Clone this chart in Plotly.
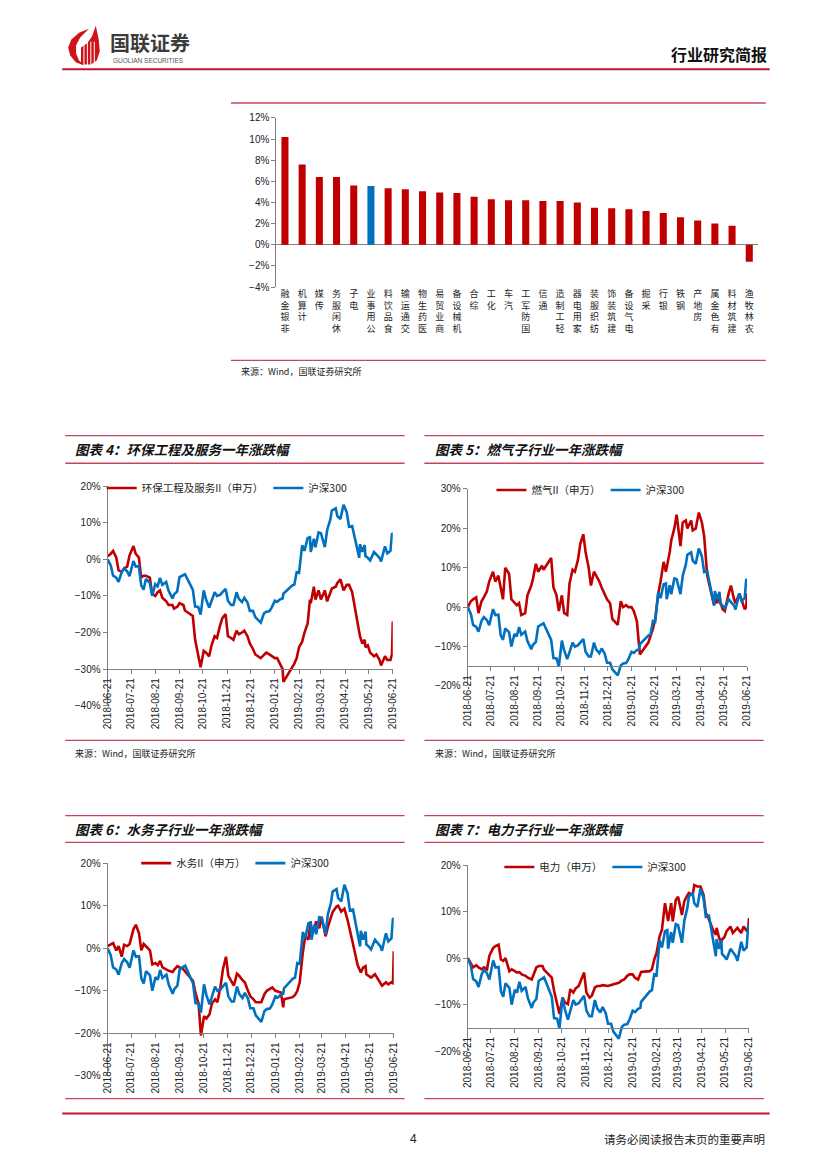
import plotly.graph_objects as go

W, H = 827, 1169
def X(p):
    return p / W
def Y(p):
    return 1 - p / H

RED = "#C00000"
BLUE = "#0070C0"
FRAME = "#C8445A"
AXIS = "#7F7F7F"
TXT = "#222222"
CJK = "Noto Sans CJK SC"
LAT = "Liberation Sans"

# ---------------- bar chart data ----------------
CATS = ["非银金融", "计算机", "传媒", "休闲服务", "电子", "公用事业", "食品饮料", "交通运输",
        "医药生物", "商业贸易", "机械设备", "综合", "化工", "汽车", "国防军工", "通信",
        "轻工制造", "家用电器", "纺织服装", "建筑装饰", "电气设备", "采掘", "银行", "钢铁",
        "房地产", "有色金属", "建筑材料", "农林牧渔"]
BAR_VALS = [10.2, 7.6, 6.4, 6.4, 5.6, 5.55, 5.35, 5.25, 5.05, 4.95, 4.9, 4.55, 4.3, 4.2,
            4.2, 4.15, 4.15, 4.0, 3.5, 3.45, 3.35, 3.2, 3.0, 2.6, 2.3, 2.0, 1.8, -1.6]
HIGHLIGHT = "公用事业"
BAR_TICKS = [-4, -2, 0, 2, 4, 6, 8, 10, 12]

# ---------------- line chart data (%, one-year change) ----------------
DATES = [
    "2018-06-21", "2018-06-25", "2018-06-28", "2018-07-02", "2018-07-05", "2018-07-09",
    "2018-07-12", "2018-07-16", "2018-07-19", "2018-07-24", "2018-07-27", "2018-07-31",
    "2018-08-03", "2018-08-06", "2018-08-09", "2018-08-14", "2018-08-17", "2018-08-21",
    "2018-08-24", "2018-08-27", "2018-08-30",
    "2018-09-04", "2018-09-07", "2018-09-12", "2018-09-14", "2018-09-18", "2018-09-21",
    "2018-09-26", "2018-09-28",
    "2018-10-08", "2018-10-11", "2018-10-15", "2018-10-18", "2018-10-22", "2018-10-25",
    "2018-10-29",
    "2018-11-01", "2018-11-05", "2018-11-08", "2018-11-12", "2018-11-15", "2018-11-19",
    "2018-11-22", "2018-11-26", "2018-11-29",
    "2018-12-03", "2018-12-06", "2018-12-10", "2018-12-13", "2018-12-17", "2018-12-20",
    "2018-12-24", "2018-12-27",
    "2019-01-03", "2019-01-07", "2019-01-10", "2019-01-14", "2019-01-17", "2019-01-21",
    "2019-01-24", "2019-01-28", "2019-01-31",
    "2019-02-01", "2019-02-12", "2019-02-15", "2019-02-18", "2019-02-21", "2019-02-25",
    "2019-02-28",
    "2019-03-04", "2019-03-07", "2019-03-08", "2019-03-12", "2019-03-14", "2019-03-18",
    "2019-03-21", "2019-03-26", "2019-03-29",
    "2019-04-02", "2019-04-04", "2019-04-09", "2019-04-11", "2019-04-15", "2019-04-19",
    "2019-04-23", "2019-04-26", "2019-04-30",
    "2019-05-06", "2019-05-09", "2019-05-10", "2019-05-13", "2019-05-16", "2019-05-17",
    "2019-05-20", "2019-05-23", "2019-05-28", "2019-05-31",
    "2019-06-04", "2019-06-06", "2019-06-11", "2019-06-14", "2019-06-18", "2019-06-20",
    "2019-06-21",
]

HS300 = [
    0.0, -1.7, -4.5, -5.0, -6.2, -3.5, -2.5, -3.3, -4.6, -0.5, -2.0, -1.9,
    -7.1, -8.3, -5.4, -6.4, -10.0, -6.8, -7.4, -5.1, -7.0,
    -6.2, -8.6, -10.7, -9.6, -8.8, -4.9, -4.3, -4.1,
    -8.3, -12.9, -13.0, -15.1, -8.5, -11.0, -13.2,
    -11.2, -9.0, -10.0, -9.7, -9.0, -8.1, -11.3, -12.5, -12.5,
    -9.0, -10.8, -11.7, -10.5, -11.8, -14.1, -14.1, -15.8,
    -17.3, -14.8, -14.3, -14.2, -13.2, -11.3, -11.6, -10.9, -10.7,
    -9.4, -7.2, -6.9, -3.5, -3.7, 3.8, 2.3,
    5.8, 6.0, 2.0, 5.6, 3.3, 7.3, 7.1, 3.3, 8.0,
    10.8, 13.3, 13.9, 11.8, 11.0, 14.9, 12.9, 8.9, 9.1,
    2.8, 0.4, 4.1, 2.0, 3.9, 0.9, 0.4, -0.3, 2.0, 1.2,
    0.4, -0.6, 3.5, 1.6, 2.3, 7.1, 6.9,
]

ENV = [
    0.8, 1.5, 2.3, 0.5, -3.0, -3.5, -2.5, -2.0, 1.0, 3.6, 1.5, 0.5,
    -5.0, -4.5, -4.5, -5.0, -9.5, -10.0, -9.0, -8.5, -10.5,
    -11.5, -12.5, -12.5, -13.5, -13.0, -12.0, -12.5, -14.0,
    -15.5, -22.0, -26.0, -29.5, -25.0, -25.5, -26.5,
    -23.5, -21.0, -21.5, -18.0, -16.0, -15.0, -21.0, -21.5, -22.0,
    -19.5, -20.5, -20.0, -19.5, -21.0, -23.0, -24.5, -26.0,
    -27.0, -26.0, -25.5, -26.0, -26.5, -27.0, -27.0, -28.5, -30.0,
    -33.5, -29.5, -28.5, -27.0, -24.0, -22.5, -20.0,
    -17.5, -11.0, -12.0, -7.5, -11.0, -8.5, -11.0, -8.5, -11.5,
    -9.5, -8.0, -7.5, -6.5, -5.5, -8.5, -7.0, -7.0, -9.0,
    -16.0, -19.0, -21.0, -23.0, -22.0, -24.0, -23.5, -25.5, -26.5, -26.0,
    -27.5, -29.0, -26.5, -27.5, -27.5, -26.0, -17.0,
]

GAS = [
    0.0, 1.5, 2.0, 2.5, -1.5, 1.5, 2.5, 4.0, 6.5, 9.0, 6.5, 8.0,
    5.0, 2.0, 10.0, 8.5, 2.0, 1.0, 0.5, 1.0, -2.0,
    -1.5, 3.0, 5.5, 7.0, 11.0, 9.0, 10.5, 9.5,
    12.5, 5.0, 3.0, -1.0, 3.0, -1.5, -2.0,
    6.0, 9.5, 9.0, 12.0, 16.0, 18.5, 14.0, 10.0, 5.5,
    9.0, 8.0, 6.5, 5.0, 3.0, 2.0, 1.0, -3.0,
    -4.5, 1.5, 0.0, 0.5, 0.0, 0.0, -1.0, -3.5, -10.0,
    -12.0, -9.0, -7.5, -5.5, -3.0, 3.5, 6.5,
    11.5, 9.0, 10.0, 14.0, 17.0, 20.0, 23.5, 15.5, 21.5,
    22.0, 20.0, 22.0, 19.5, 20.0, 24.0, 21.5, 18.0, 8.0,
    3.0, 0.5, 2.5, 1.0, 3.5, 1.5, -0.5, -1.0, 3.5, 5.5,
    2.0, 1.0, 3.5, 1.5, -0.5, 0.0, 3.5,
]

WATER = [
    0.5, 0.8, 1.2, -0.5, 0.5, -2.0, 0.8, 0.5, 1.0, 4.5, 5.5, 3.5,
    -0.5, 1.0, 0.5, -0.5, -3.8, -3.5, -4.0, -3.0, -4.5,
    -5.0, -5.3, -5.6, -5.0, -4.2, -4.5, -5.0, -5.5,
    -7.7, -10.5, -13.0, -20.5, -16.0, -16.5, -15.5,
    -13.0, -12.0, -12.7, -9.0, -5.0, -2.0, -6.5, -8.0, -8.8,
    -6.0, -6.5, -7.5, -8.0, -10.0, -11.3, -12.0, -12.7,
    -12.7, -10.8, -10.0, -9.6, -9.2, -10.0, -10.2, -10.4, -13.9,
    -12.0, -11.5, -11.0, -10.0, -8.0, -1.0, 2.8,
    2.0, 6.3, 4.3, 5.0, 6.3, 4.7, 7.4, 2.8, 5.0,
    7.0, 8.5, 9.8, 10.0, 8.6, 9.3, 6.7, 4.0, 1.0,
    -4.0, -5.0, -5.7, -4.5, -4.2, -6.1, -6.5, -6.9, -6.1, -6.9,
    -8.0, -8.8, -8.0, -8.5, -8.0, -8.2, -0.7,
]

POWER = [
    0.0, -1.0, -2.0, -1.5, -2.0, -2.4, -2.0, -2.4, 0.5, 2.2, 2.6, 2.9,
    -0.3, -0.6, 0.0, -2.8, -2.4, -2.8, -3.1, -3.0, -3.5,
    -3.8, -4.2, -4.6, -3.8, -2.0, -1.7, -1.7, -2.5,
    -4.2, -7.0, -10.2, -12.0, -8.5, -9.5, -9.9,
    -6.7, -7.4, -6.5, -6.0, -4.6, -3.1, -7.4, -8.5, -8.1,
    -6.3, -6.0, -6.0, -5.8, -6.0, -6.0, -5.8, -5.6,
    -5.3, -4.8, -4.6, -3.8, -3.5, -3.5, -4.2, -4.6, -3.5,
    -3.0, -2.8, -2.4, -0.3, 1.1, 4.7, 6.1,
    11.8, 8.3, 8.0, 11.8, 7.9, 12.5, 13.2, 9.3, 12.2,
    13.5, 14.0, 13.6, 15.7, 15.4, 15.4, 13.6, 9.7, 8.3,
    5.8, 5.0, 6.5, 4.5, 3.3, 4.0, 4.5, 5.8, 6.8, 5.4,
    6.0, 6.5, 5.4, 6.8, 5.8, 6.5, 8.6,
]

for s in (HS300, ENV, GAS, WATER, POWER):
    assert len(s) == len(DATES)

TICK_DATES = ["2018-06-21", "2018-07-21", "2018-08-21", "2018-09-21", "2018-10-21",
              "2018-11-21", "2018-12-21", "2019-01-21", "2019-02-21", "2019-03-21",
              "2019-04-21", "2019-05-21", "2019-06-21"]

SECTOR_SERIES = [ENV, GAS, WATER, POWER]
SECTOR_NAMES = ["环保工程及服务II（申万）", "燃气II（申万）", "水务II（申万）", "电力（申万）"]
BENCH_NAME = "沪深300"
TITLES = ["图表 4：环保工程及服务一年涨跌幅", "图表 5：燃气子行业一年涨跌幅",
          "图表 6：水务子行业一年涨跌幅", "图表 7：电力子行业一年涨跌幅"]
Y_RANGES = [(-40, 20), (-20, 30), (-30, 20), (-20, 20)]
X_CROSS = [-30, -15, -20, -15]
SOURCE = "来源：Wind，国联证券研究所"

def pct(v):
    return ("−" if v < 0 else "") + f"{abs(v)}%"

# ---------------- layout geometry (page pixels) ----------------
PANELS = [
    dict(x0=103, x1=392, ytop=485, ybot=707, top=434, mid=462, bottom=742, left=60, right=404,
         title_x=68, title_y=448, leg=(97, 487), src=(68, 755)),
    dict(x0=468, x1=751, ytop=488, ybot=687, top=434, mid=462, bottom=742, left=424, right=768,
         title_x=433, title_y=448, leg=(492, 489), src=(433, 755)),
    dict(x0=103, x1=393, ytop=866, ybot=1081, top=818, mid=845, bottom=1104, left=60, right=404,
         title_x=68, title_y=832, leg=(132, 866), src=None),
    dict(x0=468, x1=753, ytop=868, ybot=1056, top=818, mid=845, bottom=1104, left=424, right=768,
         title_x=433, title_y=832, leg=(500, 870), src=None),
]

fig = go.Figure()
shapes = []
annotations = []
layout = {}

def hline(y, a, b, color=FRAME, width=1.3):
    shapes.append(dict(type="line", xref="paper", yref="paper", x0=X(a), x1=X(b),
                       y0=Y(y), y1=Y(y), line=dict(color=color, width=width)))

def text(t, x, y, size, xanchor="left", color=TXT, family=CJK):
    annotations.append(dict(text=t, x=X(x), y=Y(y), xref="paper", yref="paper",
                            xanchor=xanchor, yanchor="middle", showarrow=False,
                            font=dict(family=family, size=size, color=color)))

# ---------------- header ----------------
hline(64, 57, 774, color="#C8102E", width=2)
text("<b>行业研究简报</b>", 773, 49, 16, xanchor="right", color="#111111")
text("<b>国联证券</b>", 103, 37, 20, color="#3C3C3C")
text("GUOLIAN SECURITIES", 106, 55, 6.5, color="#555555", family=LAT)

def path(pts):
    return "M " + " L ".join(f"{X(a):.5f},{Y(b):.5f}" for a, b in pts) + " Z"

# logo (decorative)
shapes.append(dict(type="path", xref="paper", yref="paper",
                   path=path([(84, 23), (74, 27), (66, 34), (63, 42), (65, 50), (71, 57), (80, 60),
                              (74, 55), (71, 48), (71, 40), (75, 32)]),
                   fillcolor="#D0121B", line=dict(width=0)))
shapes.append(dict(type="path", xref="paper", yref="paper",
                   path=path([(76, 59), (76, 42), (82, 38), (87, 31), (91, 20), (94, 34), (95, 46),
                              (92, 55), (86, 59)]),
                   fillcolor="#D0121B", line=dict(width=0)))
for xs in (79, 82.5, 86, 89.5):
    shapes.append(dict(type="line", xref="paper", yref="paper", x0=X(xs), x1=X(xs),
                       y0=Y(36), y1=Y(60), line=dict(color="white", width=1)))

# ---------------- footer ----------------
hline(1119, 57, 774, color="#C8102E", width=2)
text("4", 413, 1145, 12, xanchor="center", family=LAT)
text("请务必阅读报告末页的重要声明", 771, 1145, 11.5, xanchor="right")

# ---------------- bar chart ----------------
bar_colors = [BLUE if c == HIGHLIGHT else RED for c in CATS]
fig.add_trace(go.Bar(x=CATS, y=BAR_VALS, marker=dict(color=bar_colors, line=dict(width=0)),
                     showlegend=False, xaxis="x", yaxis="y", hoverinfo="x+y"))
layout["xaxis"] = dict(domain=[X(274), X(762)], anchor="y", type="category",
                       tickmode="array", tickvals=CATS,
                       ticktext=["<br>".join(reversed(c)) for c in CATS],
                       tickangle=0, ticks="", showline=False, showgrid=False,
                       range=[-0.5, len(CATS) - 0.5],
                       tickfont=dict(family=CJK, size=9, color=TXT))
layout["yaxis"] = dict(domain=[Y(284), Y(113)], anchor="x", range=[-4, 12],
                       tickmode="array", tickvals=BAR_TICKS,
                       ticktext=[pct(v) for v in BAR_TICKS],
                       showline=True, linecolor=AXIS, linewidth=1, ticks="outside",
                       ticklen=4, tickcolor=AXIS, showgrid=False, zeroline=True,
                       zerolinecolor=AXIS, zerolinewidth=1,
                       tickfont=dict(family=LAT, size=10, color=TXT))
hline(98, 228, 770)
hline(358, 228, 770)
text(SOURCE, 236, 369, 9)

# ---------------- line charts ----------------
for i, (P, series, name, title, yr, cross) in enumerate(
        zip(PANELS, SECTOR_SERIES, SECTOR_NAMES, TITLES, Y_RANGES, X_CROSS)):
    k = i + 2
    xa, ya = f"x{k}", f"y{k}"
    leg = "legend" if i == 0 else f"legend{i + 1}"
    fig.add_trace(go.Scatter(x=DATES, y=series, mode="lines", name=name,
                             line=dict(color=RED, width=2.6), xaxis=xa, yaxis=ya, legend=leg))
    fig.add_trace(go.Scatter(x=DATES, y=HS300, mode="lines", name=BENCH_NAME,
                             line=dict(color=BLUE, width=2.6), xaxis=xa, yaxis=ya, legend=leg))
    ymin, ymax = yr
    yt = list(range(ymin, ymax + 1, 10))
    ypx_cross = P["ytop"] + (ymax - cross) / (ymax - ymin) * (P["ybot"] - P["ytop"])
    layout[f"xaxis{k}"] = dict(domain=[X(P["x0"]), X(P["x1"])], anchor="free",
                               position=Y(ypx_cross), type="date",
                               range=[DATES[0], DATES[-1]], tickmode="array",
                               tickvals=TICK_DATES, ticktext=TICK_DATES, tickangle=-90,
                               showline=True, linecolor=AXIS, linewidth=1, ticks="outside",
                               ticklen=4, tickcolor=AXIS, showgrid=False, zeroline=False,
                               tickfont=dict(family=LAT, size=10, color=TXT))
    layout[f"yaxis{k}"] = dict(domain=[Y(P["ybot"]), Y(P["ytop"])], anchor=xa,
                               range=[ymin, ymax], tickmode="array",
                               tickvals=yt, ticktext=[pct(v) for v in yt],
                               showline=True, linecolor=AXIS, linewidth=1, ticks="outside",
                               ticklen=4, tickcolor=AXIS, showgrid=False, zeroline=False,
                               tickfont=dict(family=LAT, size=10, color=TXT))
    layout[leg] = dict(orientation="h", x=X(P["leg"][0]), y=Y(P["leg"][1]),
                       xanchor="left", yanchor="middle", bgcolor="rgba(0,0,0,0)",
                       font=dict(family=CJK, size=10.5, color=TXT), itemwidth=30,
                       traceorder="normal", borderwidth=0)
    hline(P["top"], P["left"], P["right"])
    hline(P["mid"], P["left"], P["right"])
    hline(P["bottom"], P["left"], P["right"])
    text(f"<b><i>{title}</i></b>", P["title_x"], P["title_y"], 13.5, color="#111111")
    if P["src"]:
        text(SOURCE, P["src"][0], P["src"][1], 9)

fig.update_layout(width=W, height=H, margin=dict(l=0, r=0, t=0, b=0),
                  paper_bgcolor="white", plot_bgcolor="rgba(0,0,0,0)",
                  bargap=0.59, showlegend=True, hovermode=False,
                  shapes=shapes, annotations=annotations, **layout)

fig.write_html("out.html",
               config={"displayModeBar": False, "displaylogo": False},
               post_script="document.body.style.margin='0';document.body.style.overflow='hidden';")
